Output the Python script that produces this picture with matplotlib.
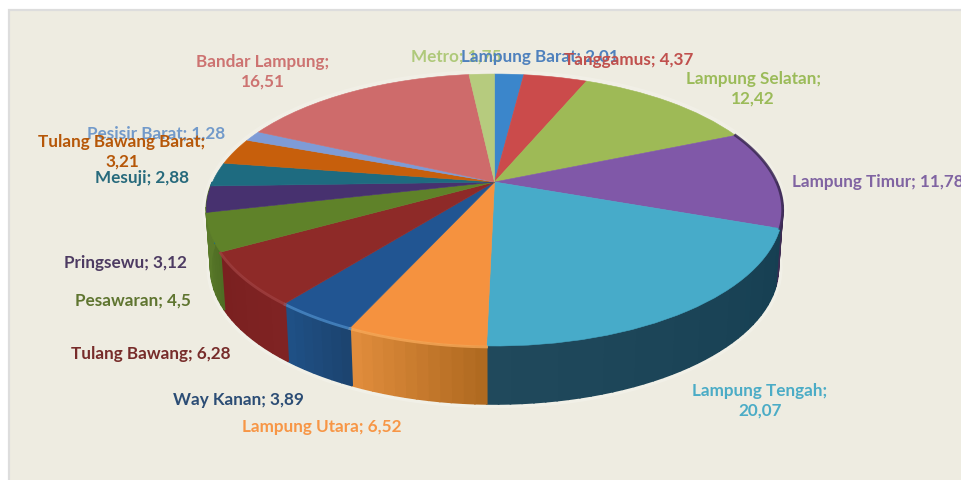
#!/usr/bin/env python

import numpy as np
import matplotlib
matplotlib.use('Agg')
import matplotlib.pyplot as plt
from matplotlib.colors import to_rgb
from matplotlib.patches import Rectangle
from matplotlib.transforms import Transform

plt.rcParams['font.family'] = ['Lato', 'DejaVu Sans']

# clockwise from 12 o'clock
names = ['Lampung Barat', 'Tanggamus', 'Lampung Selatan', 'Lampung Timur',
         'Lampung Tengah', 'Lampung Utara', 'Way Kanan', 'Tulang Bawang',
         'Pesawaran', 'Pringsewu', 'Mesuji', 'Tulang Bawang Barat',
         'Pesisir Barat', 'Bandar Lampung', 'Metro']
values = [2.01, 4.37, 12.42, 11.78, 20.07, 6.52, 3.89, 6.28,
          4.5, 3.12, 2.88, 3.21, 1.28, 16.51, 1.75]
value_text = ['2,01', '4,37', '12,42', '11,78', '20,07', '6,52', '3,89', '6,28',
              '4,5', '3,12', '2,88', '3,21', '1,28', '16,51', '1,75']

top_colors = ['#3B86CB', '#CB4B4B', '#9EBA56', '#8058A8', '#47ABC9',
              '#F5923F', '#215592', '#8E2A28', '#5F8229', '#47316F',
              '#1E6B80', '#C75F0C', '#7E9BD6', '#CE6B6B', '#B6CB7E']
label_colors = ['#4F81BD', '#C0504D', '#9BBB59', '#8064A2', '#4BACC6',
                '#F79646', '#2C4D75', '#772C2A', '#5F7530', '#4D3B62',
                '#276A7C', '#B65708', '#729ACA', '#CD7371', '#AFC97A']
# wall colour at the start and the end of each slice (clockwise)
wall_colors = {3: ('#3E2C52', '#3E2C52'),
               4: ('#163F52', '#20495C'),
               5: ('#B06A20', '#E08C3C'),
               6: ('#1C4470', '#1F5085'),
               7: ('#7F2323', '#7A2020'),
               8: ('#4F6E24', '#5A7A2A'),
               9: ('#5A7A2A', '#5A7A2A')}
rim_colors = {5: '#F7A858', 6: '#4A8AC8', 7: '#A04040'}

# label: x, y (pixels), horizontal alignment, text broken on two lines or not
label_pos = {12: (87, 134, 'left', False),
             11: (122, 152, 'center', True),
             10: (95, 178, 'left', False),
             9: (64, 263, 'left', False),
             8: (75, 301, 'left', False),
             7: (71, 354, 'left', False),
             6: (173, 400, 'left', False),
             5: (242, 427, 'left', False),
             4: (760, 401, 'center', True),
             3: (792, 182, 'left', False),
             2: (753, 89, 'center', True),
             13: (263, 72, 'center', True),
             14: (411, 57, 'left', False),
             0: (461, 57, 'left', False),
             1: (564, 60, 'left', False)}

CX, CY = 494.5, 183
R, B, K = 282, 130.2, 0.206
DEPTH, SHRINK = 58, 0.985


def project(x, y):
    d = 1 + K * y
    return CX + R * x / d, CY - B * y / d


class Tilt(Transform):
    input_dims = output_dims = 2
    is_separable = False
    has_inverse = False

    def transform_non_affine(self, xy):
        xy = np.asarray(xy)
        sx, sy = project(xy[:, 0], xy[:, 1])
        return np.column_stack([sx, sy])


fig = plt.figure(figsize=(9.61, 4.81), dpi=100, facecolor='white')
ax = fig.add_axes([0, 0, 1, 1])

wedges, _ = ax.pie(values, startangle=90, counterclock=False, colors=top_colors,
                   wedgeprops={'linewidth': 0.4, 'zorder': 5})
for w, c in zip(wedges, top_colors):
    w.set_edgecolor(c)
    w.set_transform(Tilt() + ax.transData)
    w.set_clip_on(False)

ax.set_aspect('auto')
ax.set_xlim(0, 961)
ax.set_ylim(481, 0)
ax.axis('off')

ax.add_patch(Rectangle((9, 11), 960, 480, facecolor='#EEECE1', edgecolor='#DDDDDD',
                       linewidth=1.6, zorder=0))

# clockwise angles measured from the top
edges = np.concatenate([[0], np.cumsum(values)]) / np.sum(values) * 2 * np.pi


def rim(t):
    return project(np.sin(t), np.cos(t))


def bottom(t):
    sx, sy = rim(t)
    return CX + (sx - CX) * SHRINK, sy + DEPTH


# soft halo round the whole pie
t_all = np.linspace(0, 2 * np.pi, 361)
hx, hy = rim(t_all)
ax.plot(hx, hy, color='white', lw=6, alpha=0.18, zorder=1)
t_front = np.linspace(np.pi / 2, 3 * np.pi / 2, 181)
bx, by = bottom(t_front)
ax.plot(bx, by, color='white', lw=6, alpha=0.22, zorder=1)

# side wall, in strips so the shade can run along a slice
for i in range(len(values)):
    lo, hi = max(edges[i], np.pi / 2), min(edges[i + 1], 3 * np.pi / 2)
    if hi <= lo:
        continue
    c0, c1 = wall_colors.get(i, (top_colors[i], top_colors[i]))
    c0, c1 = np.array(to_rgb(c0)), np.array(to_rgb(c1))
    n = max(2, int((hi - lo) * 30))
    ts = np.linspace(lo, hi, n + 1)
    for j in range(n):
        t = np.linspace(ts[j], ts[j + 1], 6)
        x1, y1 = rim(t)
        x2, y2 = bottom(t[::-1])
        f = j / max(n - 1, 1)
        ax.fill(np.r_[x1, x2], np.r_[y1, y2], color=c0 + (c1 - c0) * f,
                lw=1.2, zorder=2)
    if i in rim_colors:
        t = np.linspace(lo, hi, 40)
        x1, y1 = rim(t)
        ax.plot(x1, y1 + 1, color=rim_colors[i], lw=2, alpha=0.8, zorder=6)

# dark edge on the far right of the top face
t = np.linspace(edges[3], edges[4], 60)
x1, y1 = rim(t)
ax.plot(x1, y1, color='#3C2A55', lw=2, alpha=0.85, zorder=6)

for i, (x, y, ha, two_lines) in label_pos.items():
    sep = ';\n' if two_lines else '; '
    ax.text(x, y, names[i] + sep + value_text[i], color=label_colors[i],
            fontsize=12.3, fontweight='bold', ha=ha, va='center',
            linespacing=1.3, multialignment='center', zorder=10)

fig.savefig('out.png', dpi=100, facecolor='white')
